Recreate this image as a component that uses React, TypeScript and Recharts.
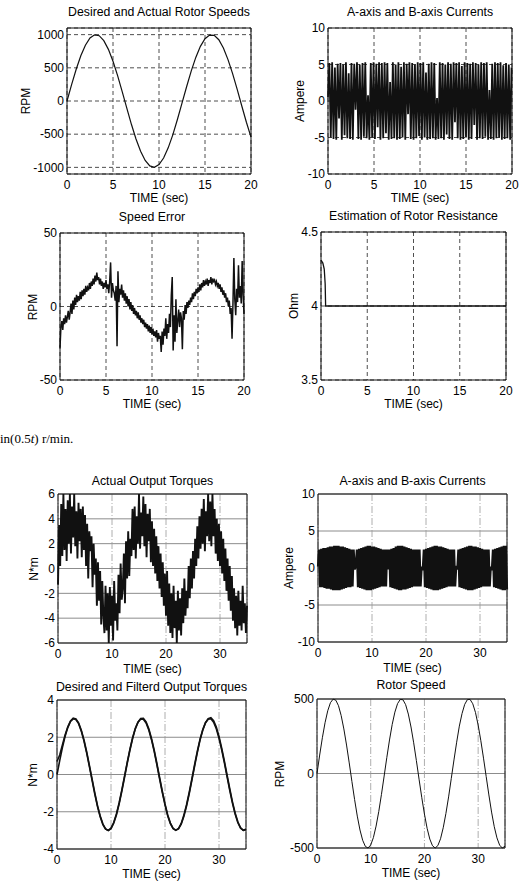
import React from "react";
import { LineChart, Line, XAxis, YAxis, CartesianGrid, ReferenceArea } from "recharts";

const FONT = '"Liberation Sans", Arial, sans-serif';

// ---- data ----

// desired / actual rotor speed, sampled every 0.5 s (0..20 s)
const desiredSpeedRpm = [
  0, 247, 479, 682, 841, 949, 997, 984, 909, 778, 598, 382, 141, -108, -351, -572, -757, -895, -978, -999,
  -959, -859, -706, -510, -279, -33, 215, 450, 657, 823, 938, 994, 989, 923, 798, 624, 412, 174, -75, -320, -544,
];

// a/b axis currents, every 0.15 s (0..19.95 s)
const abCurrentsTop = [
  0.5, 5.2, -5.0, 5.3, -5.2, 4.6, -5.3, 5.1, -2.4, 5.2, -5.3, 5.0, -4.7, 5.3, -5.1, 3.8, -5.2, 5.2, -5.3, 5.1,
  -1.2, 5.3, -5.2, 5.0, -5.3, 5.2, -4.9, 5.3, -5.1, 0.8, -5.3, 5.2, -5.0, 5.3, -5.2, 5.1, -3.6, 5.3, -5.3, 5.2,
  -5.1, 5.3, -4.4, 5.2, -5.3, 2.6, -5.2, 5.3, -5.1, 5.0, -5.3, 5.3, -5.2, 4.7, -5.0, 5.3, -5.3, 5.1, -1.8, 5.3,
  -5.2, 5.2, -5.3, 5.0, -5.1, 5.3, -4.8, 5.2, -5.3, 5.3, -5.0, 3.9, -5.3, 5.1, -5.2, 5.3, -5.1, 5.2, -5.3, 0.4,
  -5.2, 5.3, -5.1, 5.2, -5.3, 5.0, -4.6, 5.3, -5.2, 5.1, -5.3, 5.3, -2.9, 5.2, -5.1, 5.3, -5.3, 4.8, -5.2, 5.3,
  -5.0, 5.2, -5.3, 5.1, -5.2, 5.3, -3.3, 5.2, -5.3, 5.0, -5.1, 5.3, -5.2, 5.2, -4.9, 5.3, -5.3, 1.5, -5.2, 5.1,
  -5.3, 5.3, -5.1, 5.2, -5.0, 5.3, -5.3, 4.9, -5.2, 5.2, -5.1, 5.0, -5.3, 4.6,
];

// speed error, every 0.1 s (0..20 s)
const speedErrorRpm = [
  -28, -14, -10, -16, -8, -12, -6, -11, -7, -3,
  -9, -4, 2, -5, 4, -2, 6, 1, 8, 3,
  7, 4, 10, 5, 11, 7, 12, 8, 14, 10,
  13, 11, 16, 12, 17, 14, 19, 15, 21, 17,
  23, 18, 20, 15, 19, 14, 17, 12, 16, 13,
  18, 12, 15, 9, 17, 30, 6, 16, 11, 9,
  4, 14, -27, 24, 3, 12, 8, 15, 6, 11,
  4, 9, 2, 7, 0, 5, -2, 3, -3, 1,
  -5, -1, -6, -3, -8, -4, -9, -6, -11, -8,
  -12, -9, -14, -11, -15, -12, -17, -13, -18, -14,
  -19, -15, -20, -17, -21, -16, -24, -18, -22, -20,
  -31, -17, -26, -15, -20, -8, -22, -12, -18, -5,
  -14, 8, 20, -30, -6, -24, 5, -18, -10, -2,
  -14, -4, -8, -29, -3, -9, 1, -5, 3, -1,
  4, 1, 6, 3, 9, 5, 10, 7, 12, 9,
  13, 10, 15, 11, 16, 13, 18, 14, 17, 15,
  19, 14, 18, 16, 20, 15, 19, 17, 18, 15,
  17, 14, 16, 12, 15, 10, 13, 8, 11, 6,
  9, 3, 6, 0, 4, -5, -1, -22, 2, 33,
  5, -6, 12, 3, 28, 6, 14, 2, 31, 8,
  -5,
];

// rotor resistance estimate
const resistanceTime = [0, 0.2, 0.35, 0.45, 0.5, 1, 20];
const resistanceOhm = [4.31, 4.29, 4.25, 4.15, 4.0, 4.0, 4.0];

// actual output torque, every 0.2 s (0..35 s)
const actualTorque = [
  -1.3, 3.5, 0.2, 5.2, 1.0, 6.0, 1.5, 4.8, 0.6, 5.5,
  2.0, 6.0, 1.2, 5.0, 2.5, 6.0, 1.8, 4.6, 0.8, 5.3,
  2.2, 4.8, 0.9, 5.0, 1.5, 4.3, 0.2, 3.6, -0.8, 3.0,
  1.4, 2.6, -1.5, 2.0, -0.5, 0.8, -3.0, 0.5, -2.6, -0.2,
  -4.5, -1.0, -3.8, -5.2, -1.4, -5.0, -2.0, -6.0, -1.5, -4.6,
  -2.2, -5.8, -1.0, -4.2, -2.8, -5.0, -0.5, -3.6, 0.4, -2.5,
  -1.6, 1.2, -2.8, 2.2, -0.8, 3.0, -0.6, 2.4, 1.0, 4.8,
  1.5, 5.0, 0.8, 4.2, 2.0, 6.0, 1.6, 4.5, 2.6, 5.8,
  1.8, 5.2, 0.9, 4.4, 2.2, 4.8, 0.5, 3.8, 0.2, 3.2,
  -0.4, 2.6, -1.0, 1.8, -1.6, 1.2, -2.3, 0.5, -3.0, -0.4,
  -3.8, -0.2, -4.6, -1.2, -5.2, -2.0, -5.6, -1.4, -4.8, -2.6,
  -6.0, -1.8, -5.0, -2.4, -5.4, -1.6, -4.4, -0.8, -3.8, -1.8,
  -3.2, 0.2, -2.4, 0.8, -1.6, 1.4, -0.8, 2.4, 0.2, 3.4,
  0.8, 4.2, 1.6, 4.8, 2.0, 5.6, 1.4, 4.6, 2.6, 6.0,
  2.2, 5.4, 1.8, 6.0, 2.6, 4.8, 1.2, 4.0, 0.6, 3.6,
  0.2, 3.0, -0.4, 2.4, -1.0, 1.6, -1.8, 0.8, -2.6, 0.2,
  -3.4, -0.6, -4.2, -1.6, -4.8, -2.2, -5.4, -1.8, -4.6, -2.6,
  -5.0, -1.4, -4.4, -2.8, -5.2, -3.0,
];

// a/b axis currents under load, every 0.2 s (0..35 s)
const abCurrentsBottom = [
  0.2, 2.5, -2.6, 2.6, -2.6, 2.7, -2.7, 2.7, -2.8, 2.8,
  -2.8, 2.9, -2.9, 2.9, -3.0, 3.0, -3.0, 3.0, -3.0, 3.0,
  -3.0, 2.9, -2.9, 2.9, -2.8, 2.8, -2.7, 2.7, -2.6, 2.6,
  -2.6, 2.5, -2.5, 2.5, -0.2, 0.3, 2.5, -2.6, 2.6, -2.7,
  2.7, -2.8, 2.8, -2.9, 2.9, -3.0, 3.0, -3.0, 3.0, -3.0,
  2.9, -2.9, 2.9, -2.8, 2.8, -2.7, 2.7, -2.6, 2.6, -2.5,
  2.5, -2.5, 2.5, -2.5, 2.5, -0.2, 2.5, -2.6, 2.6, -2.7,
  2.7, -2.8, 2.9, -2.9, 3.0, -3.0, 3.0, -3.0, 3.0, -2.9,
  2.9, -2.9, 2.8, -2.8, 2.7, -2.7, 2.6, -2.6, 2.5, -2.5,
  2.5, -2.5, 2.5, -2.5, 2.5, -2.5, 0.2, -0.3, 2.5, -2.6,
  2.6, -2.7, 2.7, -2.8, 2.8, -2.9, 2.9, -3.0, 3.0, -3.0,
  3.0, -3.0, 2.9, -2.9, 2.9, -2.8, 2.8, -2.7, 2.7, -2.6,
  2.6, -2.5, 2.5, -2.5, 2.5, -2.5, 2.5, -2.5, 0.3, -0.2,
  2.5, -2.6, 2.6, -2.7, 2.7, -2.8, 2.8, -2.9, 2.9, -3.0,
  3.0, -3.0, 3.0, -3.0, 2.9, -2.9, 2.9, -2.8, 2.8, -2.7,
  2.7, -2.6, 2.6, -2.5, 2.5, -2.5, 2.5, -2.5, 2.5, -2.5,
  0.2, -0.3, 2.5, -2.6, 2.6, -2.7, 2.7, -2.8, 2.8, -2.9,
  2.9, -3.0, 3.0, -3.0, 3.0, -2.9,
];

// desired and filtered output torque, every 0.5 s (0..35 s)
const desiredTorque = [
  0, 0.74, 1.44, 2.05, 2.52, 2.85, 2.99, 2.95, 2.73, 2.33,
  1.79, 1.15, 0.42, -0.32, -1.05, -1.72, -2.27, -2.69, -2.93, -3.0,
  -2.88, -2.58, -2.12, -1.53, -0.84, -0.1, 0.65, 1.35, 1.97, 2.47,
  2.81, 2.98, 2.97, 2.77, 2.39, 1.87, 1.24, 0.52, -0.23, -0.96,
  -1.63, -2.21, -2.64, -2.91, -3.0, -2.9, -2.63, -2.18, -1.61, -0.94,
  -0.2, 0.55, 1.26, 1.91, 2.41, 2.78, 2.97, 2.99, 2.81, 2.46,
  1.95, 1.32, 0.62, -0.13, -0.86, -1.55, -2.14, -2.59, -2.88, -3.0,
  -2.93,
];
const filteredTorque = [
  0.7, 1.05, 1.58, 2.12, 2.56, 2.88, 3.02, 2.98, 2.77, 2.38,
  1.85, 1.21, 0.49, -0.25, -0.99, -1.67, -2.23, -2.66, -2.92, -3.01,
  -2.91, -2.62, -2.17, -1.59, -0.9, -0.16, 0.59, 1.3, 1.93, 2.45,
  2.81, 3.0, 3.01, 2.82, 2.45, 1.93, 1.3, 0.59, -0.16, -0.9,
  -1.58, -2.17, -2.61, -2.89, -2.99, -2.92, -2.67, -2.24, -1.68, -1.01,
  -0.27, 0.48, 1.2, 1.86, 2.39, 2.78, 3.0, 3.05, 2.89, 2.55,
  2.04, 1.41, 0.71, -0.04, -0.78, -1.48, -2.08, -2.55, -2.86, -3.0,
  -2.97,
];

// rotor speed, every 0.5 s (0..35 s)
const rotorSpeedRpm = [
  0, 124, 240, 341, 421, 475, 499, 492, 455, 389,
  299, 191, 71, -54, -175, -286, -379, -448, -489, -500,
  -480, -430, -353, -255, -140, -17, 108, 225, 329, 412,
  469, 497, 495, 462, 399, 312, 206, 87, -38, -160,
  -272, -368, -440, -485, -500, -484, -438, -364, -268, -157,
  -33, 91, 210, 318, 402, 464, 496, 497, 468, 410,
  325, 220, 103, -21, -144, -259, -357, -432, -481, -500,
  -488,
];

const ticks20 = [0, 5, 10, 15, 20];
const ticks35 = [0, 10, 20, 30];

const sampled = (step: number, cols: Record<string, number[]>) => {
  const keys = Object.keys(cols);
  return cols[keys[0]].map((_, i) => {
    const row: Record<string, number> = { t: +(i * step).toFixed(3) };
    keys.forEach((k) => (row[k] = cols[k][i]));
    return row;
  });
};

const speedData = sampled(0.5, { v: desiredSpeedRpm });
const currentsTopData = sampled(0.15, { v: abCurrentsTop });
const errorData = sampled(0.1, { v: speedErrorRpm });
const resistanceData = resistanceTime.map((t, i) => ({ t, v: resistanceOhm[i] }));
const torqueData = sampled(0.2, { v: actualTorque });
const currentsBottomData = sampled(0.2, { v: abCurrentsBottom });
const filteredData = sampled(0.5, { desired: desiredTorque, filtered: filteredTorque });
const rotorData = sampled(0.5, { v: rotorSpeedRpm });

// ---- panel ----

type PanelProps = {
  x: number;
  y: number;
  w: number;
  h: number;
  title: string;
  titleY: number;
  yLabel: string;
  yLabelX: number;
  xLabelY: number;
  data: any[];
  xDomain: [number, number];
  xTicks: number[];
  yDomain: [number, number];
  yTicks: number[];
  lines: { key: string; width?: number }[];
  grid: "dashed" | "solid";
};

const AXIS_W = 50;
const PAD_T = 10;
const PAD_R = 10;
const AXIS_H = 30;

const tickStyle = { fill: "#000", fontSize: 12, fontFamily: FONT };

function Panel(p: PanelProps) {
  const cx = p.x + p.w / 2;
  return (
    <>
      <div
        style={{
          position: "absolute",
          left: p.x - AXIS_W,
          top: p.y - PAD_T,
        }}
      >
        <LineChart
          width={p.w + AXIS_W + PAD_R}
          height={p.h + PAD_T + AXIS_H}
          data={p.data}
          margin={{ top: PAD_T, right: PAD_R, left: 0, bottom: 0 }}
        >
          {p.grid === "dashed" ? (
            <CartesianGrid stroke="#222" strokeWidth={0.8} strokeDasharray="4 3" />
          ) : (
            <>
              <CartesianGrid vertical={false} stroke="#8c8c8c" strokeWidth={1} />
              <CartesianGrid horizontal={false} stroke="#999" strokeWidth={0.8} strokeDasharray="7 2 1 2" />
            </>
          )}
          <XAxis
            dataKey="t"
            type="number"
            domain={p.xDomain}
            ticks={p.xTicks}
            interval={0}
            height={AXIS_H}
            axisLine={false}
            tickLine={false}
            tickSize={4}
            tickMargin={2}
            tick={tickStyle}
          />
          <YAxis
            type="number"
            domain={p.yDomain}
            ticks={p.yTicks}
            interval={0}
            width={AXIS_W}
            axisLine={false}
            tickLine={false}
            tickSize={1}
            tickMargin={2}
            tick={tickStyle}
          />
          <ReferenceArea
            x1={p.xDomain[0]}
            x2={p.xDomain[1]}
            y1={p.yDomain[0]}
            y2={p.yDomain[1]}
            fill="none"
            fillOpacity={0}
            stroke="#111"
            strokeWidth={1}
          />
          {p.lines.map((l) => (
            <Line
              key={l.key}
              dataKey={l.key}
              type="linear"
              stroke="#111"
              strokeWidth={l.width ?? 1}
              dot={false}
              isAnimationActive={false}
            />
          ))}
        </LineChart>
      </div>
      <div
        style={{
          position: "absolute",
          left: cx,
          top: p.titleY,
          transform: "translate(-50%, -50%)",
          whiteSpace: "nowrap",
          fontFamily: FONT,
          fontSize: 12.3,
          lineHeight: "13px",
        }}
      >
        {p.title}
      </div>
      <div
        style={{
          position: "absolute",
          left: p.yLabelX,
          top: p.y + p.h / 2,
          transform: "translate(-50%, -50%) rotate(-90deg)",
          whiteSpace: "nowrap",
          fontFamily: FONT,
          fontSize: 12,
          lineHeight: "12px",
        }}
      >
        {p.yLabel}
      </div>
      <div
        style={{
          position: "absolute",
          left: cx,
          top: p.xLabelY,
          transform: "translate(-50%, -50%)",
          whiteSpace: "nowrap",
          fontFamily: FONT,
          fontSize: 12,
          lineHeight: "12px",
        }}
      >
        TIME (sec)
      </div>
    </>
  );
}

export default function App() {
  return (
    <div
      style={{
        position: "absolute",
        left: 0,
        top: 0,
        width: 522,
        height: 888,
        background: "#fff",
        color: "#000",
        overflow: "hidden",
      }}
    >
      <Panel
        x={67} y={28} w={184} h={146}
        title="Desired and Actual Rotor Speeds" titleY={12}
        yLabel="RPM" yLabelX={26} xLabelY={198}
        data={speedData}
        xDomain={[0, 20]} xTicks={ticks20}
        yDomain={[-1100, 1100]} yTicks={[-1000, -500, 0, 500, 1000]}
        lines={[{ key: "v", width: 1.2 }]}
        grid="dashed"
      />
      <Panel
        x={328} y={28} w={184} h={146}
        title="A-axis and B-axis Currents" titleY={12}
        yLabel="Ampere" yLabelX={300} xLabelY={198}
        data={currentsTopData}
        xDomain={[0, 20]} xTicks={ticks20}
        yDomain={[-10, 10]} yTicks={[-10, -5, 0, 5, 10]}
        lines={[{ key: "v", width: 1.8 }]}
        grid="dashed"
      />
      <Panel
        x={60} y={233} w={184} h={147}
        title="Speed Error" titleY={217}
        yLabel="RPM" yLabelX={33} xLabelY={404}
        data={errorData}
        xDomain={[0, 20]} xTicks={ticks20}
        yDomain={[-50, 50]} yTicks={[-50, 0, 50]}
        lines={[{ key: "v", width: 1.5 }]}
        grid="dashed"
      />
      <Panel
        x={321} y={232} w={185} h={148}
        title="Estimation of Rotor Resistance" titleY={216}
        yLabel="Ohm" yLabelX={294} xLabelY={404}
        data={resistanceData}
        xDomain={[0, 20]} xTicks={ticks20}
        yDomain={[3.5, 4.5]} yTicks={[3.5, 4, 4.5]}
        lines={[{ key: "v", width: 1.3 }]}
        grid="dashed"
      />
      <div
        style={{
          position: "absolute",
          left: 0,
          top: 439,
          transform: "translateY(-50%)",
          whiteSpace: "nowrap",
          fontFamily: '"Liberation Serif", serif',
          fontSize: 13,
        }}
      >
        in(0.5<i>t</i>) r/min.
      </div>
      <Panel
        x={58} y={494} w={189} h={149}
        title="Actual Output Torques" titleY={481}
        yLabel="N*m" yLabelX={34} xLabelY={669}
        data={torqueData}
        xDomain={[0, 35]} xTicks={ticks35}
        yDomain={[-6, 6]} yTicks={[-6, -4, -2, 0, 2, 4, 6]}
        lines={[{ key: "v", width: 1.9 }]}
        grid="solid"
      />
      <Panel
        x={318} y={494} w={189} h={148}
        title="A-axis and B-axis Currents" titleY={481}
        yLabel="Ampere" yLabelX={289} xLabelY={668}
        data={currentsBottomData}
        xDomain={[0, 35]} xTicks={ticks35}
        yDomain={[-10, 10]} yTicks={[-10, -5, 0, 5, 10]}
        lines={[{ key: "v", width: 2.2 }]}
        grid="solid"
      />
      <Panel
        x={57} y={700} w={189} h={149}
        title="Desired and Filterd Output Torques" titleY={687}
        yLabel="N*m" yLabelX={33} xLabelY={874}
        data={filteredData}
        xDomain={[0, 35]} xTicks={ticks35}
        yDomain={[-4, 4]} yTicks={[-4, -2, 0, 2, 4]}
        lines={[
          { key: "desired", width: 1.6 },
          { key: "filtered", width: 1.6 },
        ]}
        grid="solid"
      />
      <Panel
        x={317} y={699} w={188} h={149}
        title="Rotor Speed" titleY={685}
        yLabel="RPM" yLabelX={280} xLabelY={873}
        data={rotorData}
        xDomain={[0, 35]} xTicks={ticks35}
        yDomain={[-500, 500]} yTicks={[-500, 0, 500]}
        lines={[{ key: "v", width: 1 }]}
        grid="solid"
      />
    </div>
  );
}
